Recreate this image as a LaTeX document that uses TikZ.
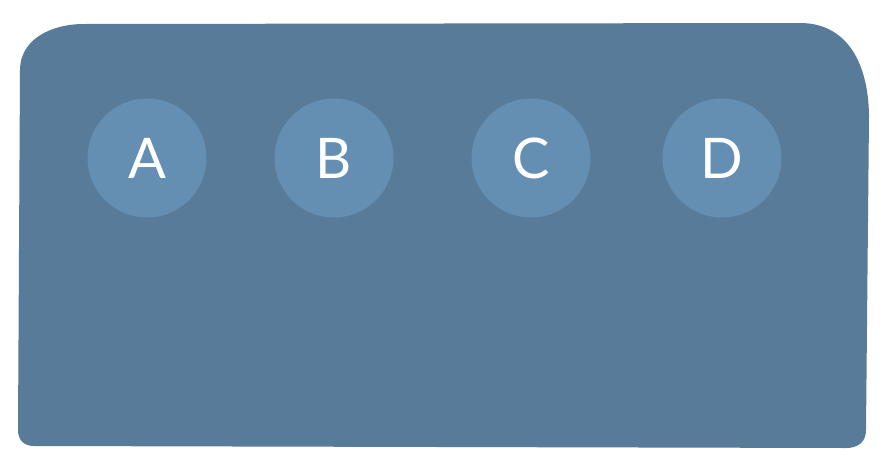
\documentclass[tikz,border=0pt]{standalone}
\usepackage{fontspec}
\setmainfont{Lato}
\usepackage{xcolor}
\usetikzlibrary{positioning}

\begin{document}
\begin{tikzpicture}[
    x=1pt,y=-1pt,
    every node/.style={circle,minimum size=119pt,inner sep=0pt,fill=color2,text=color3,font=\fontsize{56}{56}\selectfont}
  ]
  \definecolor{color1}{HTML}{577B99}
  \definecolor{color2}{HTML}{658FB2}
  \definecolor{color3}{HTML}{ffffff}

  \useasboundingbox (0,0) rectangle (882,472);

  % panel
  \fill[color1] (20,70) .. controls (20,40) and (50,24) .. (84,24)
    -- (800,23) .. controls (845,23) and (868,60) .. (869,115)
    -- (866,430) .. controls (866,442) and (858,448) .. (846,448)
    -- (34,446) .. controls (24,446) and (18,440) .. (18,430) -- cycle;

  \node at (147,158)          (stepa)  {A};
  \node at (334,158)          (stepb)  {B};
  \node at (531,158)          (stepc)  {C};
  \node at (722,158)          (stepd)  {D};
\end{tikzpicture}
\end{document}
